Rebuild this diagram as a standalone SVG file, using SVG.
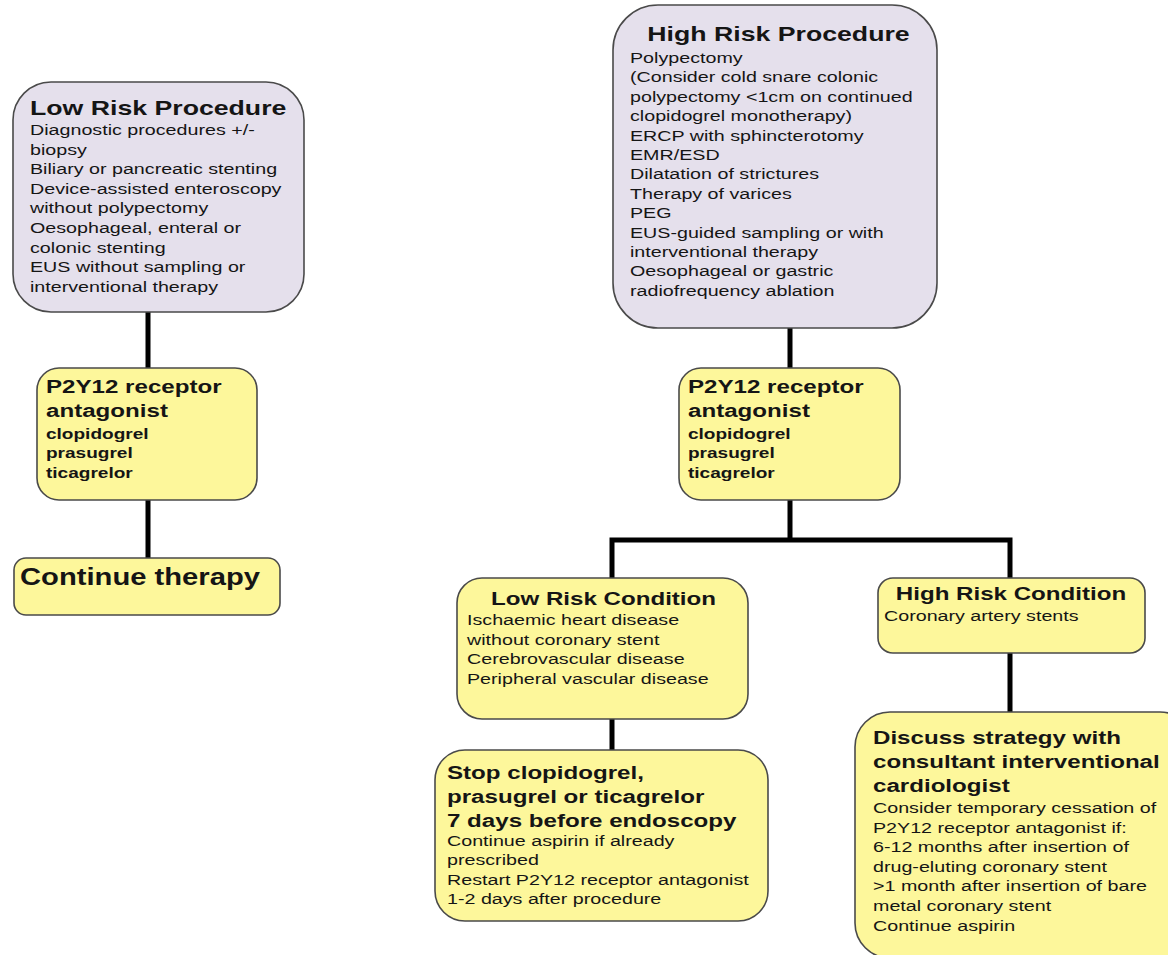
<svg xmlns="http://www.w3.org/2000/svg" width="1168" height="955" viewBox="0 0 1168 955">
<style>
.lav{fill:#e5e0ec;stroke:#4a4a4a;stroke-width:1.6}
.yel{fill:#fdf79b;stroke:#4a4a4a;stroke-width:1.6}
.c{stroke:#000;stroke-width:5;fill:none}
text{font-family:"Liberation Sans",Arial,sans-serif;fill:#151515}
.h{font-weight:bold;font-size:21px}
.h19{font-weight:bold;font-size:19px}
.h23{font-weight:bold;font-size:23px}
.b{font-size:15.5px}
.bb{font-weight:bold;font-size:15px}
</style>
<rect width="1168" height="955" fill="#ffffff"/>
<g id="connectors">
<path class="c" d="M148,312 V368 M148,500 V558"/>
<path class="c" d="M790,328 V368 M790,500 V540 M612,540 H1010 M612,537.5 V578 M1010,537.5 V578"/>
<path class="c" d="M612,719 V750 M1010,653 V712"/>
</g>
<g id="low-risk-procedure">
<rect class="lav" x="13" y="82" width="291" height="230" rx="38"/>
<text class="h" transform="matrix(1.27 0 0 1 30 0)" x="0" y="115">Low Risk Procedure</text>
<text class="b" transform="matrix(1.27 0 0 1 30 0)">
<tspan x="0" y="135">Diagnostic procedures +/-</tspan>
<tspan x="0" y="154.6">biopsy</tspan>
<tspan x="0" y="174.2">Biliary or pancreatic stenting</tspan>
<tspan x="0" y="193.8">Device-assisted enteroscopy</tspan>
<tspan x="0" y="213.4">without polypectomy</tspan>
<tspan x="0" y="233">Oesophageal, enteral or</tspan>
<tspan x="0" y="252.6">colonic stenting</tspan>
<tspan x="0" y="272.2">EUS without sampling or</tspan>
<tspan x="0" y="291.8">interventional therapy</tspan>
</text>
</g>
<g id="p2y12-left">
<rect class="yel" x="37" y="368" width="220" height="132" rx="22"/>
<text class="h19" transform="matrix(1.27 0 0 1 46 0)"><tspan x="0" y="393">P2Y12 receptor</tspan><tspan x="0" y="417">antagonist</tspan></text>
<text class="bb" transform="matrix(1.27 0 0 1 46 0)"><tspan x="0" y="439">clopidogrel</tspan><tspan x="0" y="458">prasugrel</tspan><tspan x="0" y="478">ticagrelor</tspan></text>
</g>
<g id="continue-therapy">
<rect class="yel" x="14" y="558" width="266" height="57" rx="12"/>
<text class="h23" transform="matrix(1.27 0 0 1 20 0)" x="0" y="585">Continue therapy</text>
</g>
<g id="high-risk-procedure">
<rect class="lav" x="613" y="5" width="324" height="323" rx="45"/>
<text class="h" text-anchor="middle" transform="matrix(1.27 0 0 1 778.5 0)" x="0" y="41">High Risk Procedure</text>
<text class="b" transform="matrix(1.27 0 0 1 630 0)">
<tspan x="0" y="63">Polypectomy</tspan>
<tspan x="0" y="82.4">(Consider cold snare colonic</tspan>
<tspan x="0" y="101.8">polypectomy &lt;1cm on continued</tspan>
<tspan x="0" y="121.2">clopidogrel monotherapy)</tspan>
<tspan x="0" y="140.6">ERCP with sphincterotomy</tspan>
<tspan x="0" y="160">EMR/ESD</tspan>
<tspan x="0" y="179.4">Dilatation of strictures</tspan>
<tspan x="0" y="198.8">Therapy of varices</tspan>
<tspan x="0" y="218.2">PEG</tspan>
<tspan x="0" y="237.6">EUS-guided sampling or with</tspan>
<tspan x="0" y="257">interventional therapy</tspan>
<tspan x="0" y="276.4">Oesophageal or gastric</tspan>
<tspan x="0" y="295.8">radiofrequency ablation</tspan>
</text>
</g>
<g id="p2y12-right">
<rect class="yel" x="679" y="368" width="221" height="132" rx="22"/>
<text class="h19" transform="matrix(1.27 0 0 1 688 0)"><tspan x="0" y="393">P2Y12 receptor</tspan><tspan x="0" y="417">antagonist</tspan></text>
<text class="bb" transform="matrix(1.27 0 0 1 688 0)"><tspan x="0" y="439">clopidogrel</tspan><tspan x="0" y="458">prasugrel</tspan><tspan x="0" y="478">ticagrelor</tspan></text>
</g>
<g id="low-risk-condition">
<rect class="yel" x="457" y="578" width="291" height="141" rx="25"/>
<text class="h19" text-anchor="middle" transform="matrix(1.27 0 0 1 603.5 0)" x="0" y="605">Low Risk Condition</text>
<text class="b" transform="matrix(1.27 0 0 1 467 0)">
<tspan x="0" y="625.5">Ischaemic heart disease</tspan>
<tspan x="0" y="645">without coronary stent</tspan>
<tspan x="0" y="664.5">Cerebrovascular disease</tspan>
<tspan x="0" y="684">Peripheral vascular disease</tspan>
</text>
</g>
<g id="high-risk-condition">
<rect class="yel" x="878" y="578" width="267" height="75" rx="15"/>
<text class="h19" text-anchor="middle" transform="matrix(1.27 0 0 1 1011 0)" x="0" y="600">High Risk Condition</text>
<text class="b" transform="matrix(1.27 0 0 1 884 0)" x="0" y="621">Coronary artery stents</text>
</g>
<g id="stop-therapy">
<rect class="yel" x="435" y="750" width="333" height="171" rx="30"/>
<text class="h19" transform="matrix(1.27 0 0 1 447 0)">
<tspan x="0" y="779">Stop clopidogrel,</tspan>
<tspan x="0" y="803">prasugrel or ticagrelor</tspan>
<tspan x="0" y="827">7 days before endoscopy</tspan>
</text>
<text class="b" transform="matrix(1.27 0 0 1 447 0)">
<tspan x="0" y="846">Continue aspirin if already</tspan>
<tspan x="0" y="865.5">prescribed</tspan>
<tspan x="0" y="885">Restart P2Y12 receptor antagonist</tspan>
<tspan x="0" y="904.5">1-2 days after procedure</tspan>
</text>
</g>
<g id="discuss-strategy">
<rect class="yel" x="855" y="712" width="340" height="246" rx="35"/>
<text class="h19" transform="matrix(1.27 0 0 1 873 0)">
<tspan x="0" y="744">Discuss strategy with</tspan>
<tspan x="0" y="768">consultant interventional</tspan>
<tspan x="0" y="792">cardiologist</tspan>
</text>
<text class="b" transform="matrix(1.27 0 0 1 873 0)">
<tspan x="0" y="813">Consider temporary cessation of</tspan>
<tspan x="0" y="832.6">P2Y12 receptor antagonist if:</tspan>
<tspan x="0" y="852.2">6-12 months after insertion of</tspan>
<tspan x="0" y="871.8">drug-eluting coronary stent</tspan>
<tspan x="0" y="891.4">&gt;1 month after insertion of bare</tspan>
<tspan x="0" y="911">metal coronary stent</tspan>
<tspan x="0" y="930.6">Continue aspirin</tspan>
</text>
</g>
</svg>
